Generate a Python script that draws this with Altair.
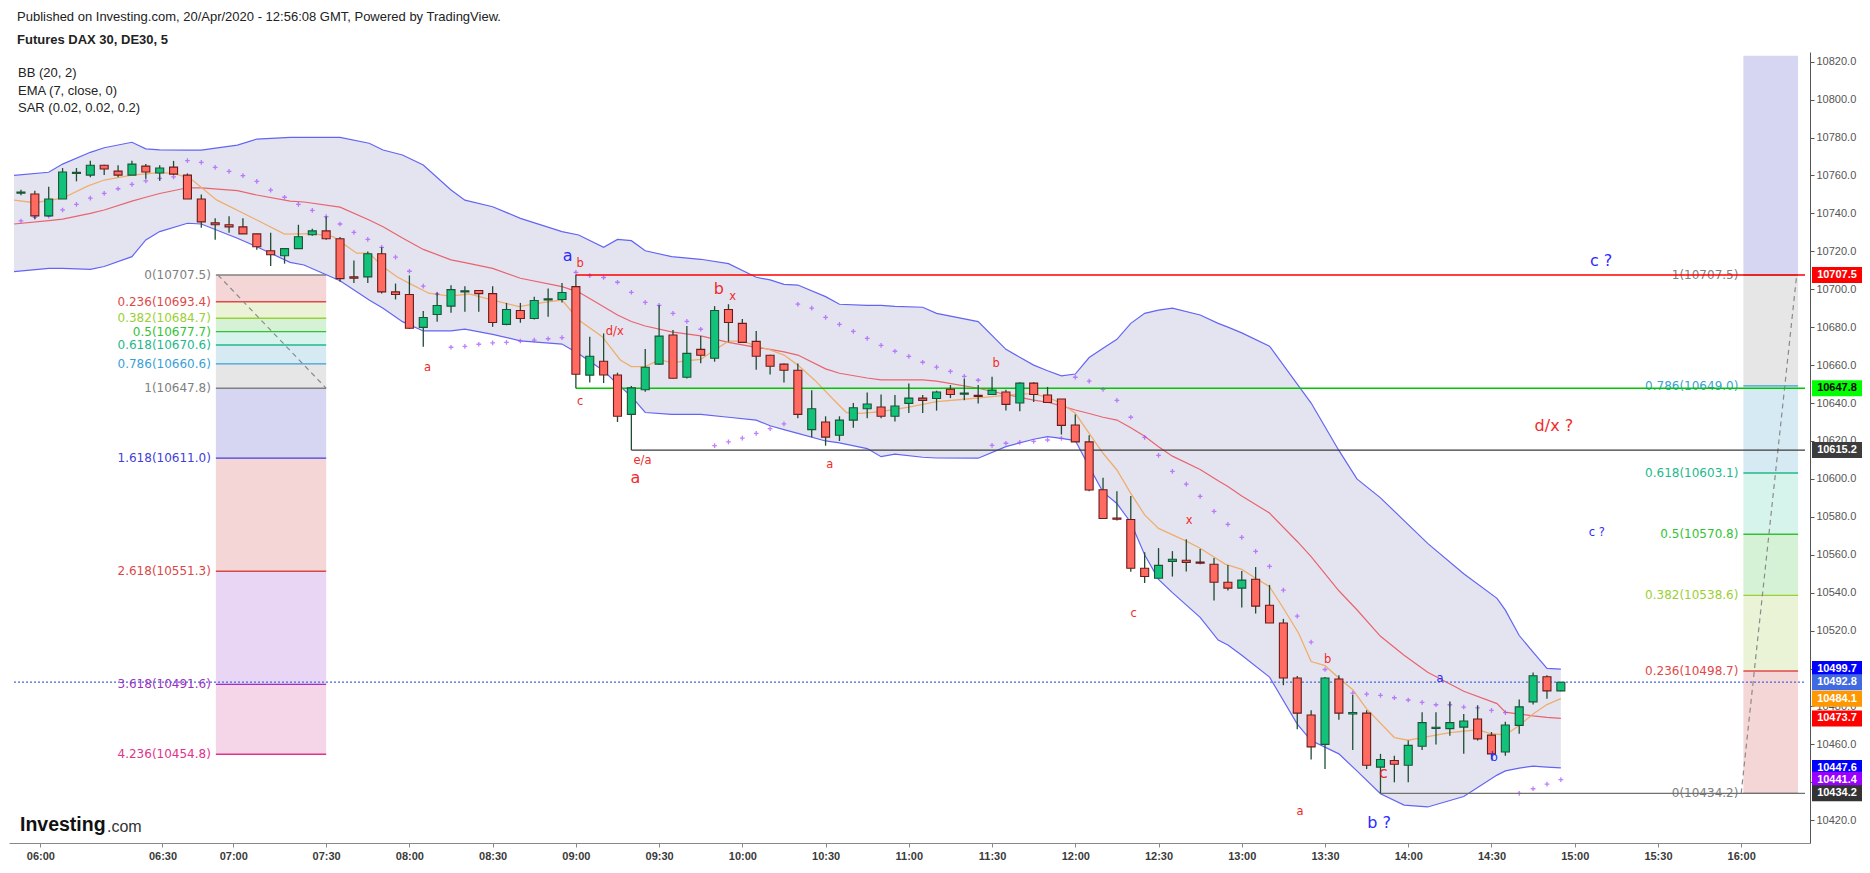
import altair as alt
import pandas as pd

# ---------------- texts ----------------
HEADER = "Published on Investing.com, 20/Apr/2020 - 12:56:08 GMT, Powered by TradingView."
SYMBOL = "Futures DAX 30, DE30, 5"
INDICATORS = ["BB (20, 2)", "EMA (7, close, 0)", "SAR (0.02, 0.02, 0.2)"]

TIME_TICKS = [2.4, 11.2, 16.3, 23, 29, 35, 41, 47, 53, 59, 65, 71, 77, 83, 89, 95, 101, 107, 113, 119, 125]
TIME_LABELS = ["06:00", "06:30", "07:00", "07:30", "08:00", "08:30", "09:00", "09:30", "10:00", "10:30",
               "11:00", "11:30", "12:00", "12:30", "13:00", "13:30", "14:00", "14:30", "15:00", "15:30", "16:00"]
PRICE_TICKS = list(range(10420, 10821, 20))

# ---------------- candles (5 min bars) ----------------
OPEN = [10750.7, 10750.2, 10738.7, 10747.6, 10761.0, 10760.2, 10765.4, 10762.3, 10760.2, 10764.9,
        10761.3, 10764.4, 10760.2, 10747.6, 10735.0, 10734.0, 10732.9, 10729.2, 10720.3, 10717.7,
        10721.4, 10728.7, 10730.8, 10726.6, 10706.5, 10706.5, 10718.7, 10698.6, 10697.2, 10679.9,
        10686.7, 10691.1, 10698.6, 10699.3, 10697.7, 10681.5, 10688.8, 10684.6, 10694.3, 10694.6,
        10701.4, 10654.7, 10662.0, 10654.8, 10634.0, 10647.0, 10660.5, 10675.9, 10653.6, 10668.3,
        10663.6, 10689.3, 10682.0, 10672.5, 10665.2, 10660.5, 10657.3, 10626.0, 10630.0, 10623.0,
        10631.0, 10637.0, 10637.9, 10633.0, 10639.8, 10642.6, 10642.4, 10647.3, 10644.7, 10644.1,
        10644.5, 10645.8, 10640.0, 10650.5, 10644.2, 10642.1, 10628.4, 10619.5, 10594.3, 10579.4,
        10578.6, 10552.9, 10547.6, 10556.5, 10557.1, 10556.2, 10555.0, 10545.5, 10542.4, 10547.1,
        10533.4, 10524.0, 10495.0, 10475.5, 10460.0, 10494.5, 10476.0, 10476.5, 10448.0, 10451.5,
        10449.0, 10459.0, 10468.4, 10468.3, 10469.1, 10473.4, 10464.9, 10456.0, 10470.0, 10482.4,
        10495.7, 10488.2]
HIGH = [10752.5, 10752.0, 10754.1, 10763.9, 10763.9, 10767.7, 10765.6, 10765.4, 10767.7, 10766.0,
        10765.4, 10767.7, 10761.1, 10749.9, 10737.5, 10738.5, 10737.5, 10729.2, 10729.8, 10721.4,
        10734.0, 10731.9, 10738.3, 10727.5, 10715.2, 10719.9, 10722.2, 10703.0, 10707.3, 10688.5,
        10698.3, 10702.1, 10701.6, 10699.5, 10701.6, 10692.8, 10692.8, 10696.0, 10700.4, 10703.3,
        10707.5, 10675.0, 10676.7, 10656.0, 10649.0, 10668.5, 10691.6, 10678.5, 10680.6, 10675.3,
        10691.1, 10692.1, 10684.3, 10678.0, 10665.5, 10660.8, 10660.8, 10646.8, 10633.0, 10633.0,
        10640.0, 10645.5, 10644.5, 10644.2, 10650.3, 10644.2, 10646.5, 10649.5, 10652.8, 10649.5,
        10653.8, 10647.0, 10651.0, 10651.0, 10648.5, 10642.1, 10633.9, 10623.0, 10600.6, 10593.5,
        10591.0, 10561.3, 10563.5, 10561.9, 10568.2, 10563.0, 10558.3, 10554.6, 10551.4, 10553.5,
        10544.1, 10526.2, 10496.0, 10478.0, 10495.5, 10496.5, 10486.0, 10478.0, 10455.0, 10454.0,
        10462.0, 10477.0, 10477.0, 10482.6, 10476.0, 10480.6, 10466.5, 10472.0, 10483.7, 10497.9,
        10496.5, 10493.0]
LOW = [10749.5, 10737.1, 10738.3, 10747.6, 10756.9, 10759.0, 10760.2, 10759.0, 10760.2, 10758.3,
       10757.2, 10760.2, 10747.6, 10732.4, 10726.1, 10729.8, 10729.2, 10720.8, 10712.2, 10713.5,
       10721.4, 10728.2, 10726.1, 10704.0, 10703.3, 10703.3, 10697.7, 10694.6, 10679.0, 10669.7,
       10682.8, 10687.6, 10688.1, 10688.1, 10680.2, 10681.0, 10682.3, 10684.1, 10685.5, 10693.0,
       10647.8, 10650.8, 10650.5, 10630.0, 10615.2, 10646.0, 10660.0, 10653.0, 10653.0, 10661.0,
       10661.8, 10672.3, 10672.0, 10657.6, 10655.0, 10650.8, 10632.0, 10622.0, 10617.5, 10620.0,
       10627.0, 10632.0, 10632.0, 10630.3, 10634.7, 10634.7, 10636.0, 10642.6, 10641.4, 10639.8,
       10644.5, 10636.0, 10635.7, 10640.5, 10640.3, 10623.4, 10619.5, 10593.5, 10579.0, 10578.0,
       10551.0, 10545.1, 10547.6, 10548.5, 10551.1, 10555.0, 10535.9, 10541.1, 10532.2, 10529.0,
       10524.0, 10491.2, 10468.0, 10452.0, 10447.0, 10473.0, 10457.0, 10447.0, 10434.2, 10440.0,
       10440.0, 10457.0, 10460.0, 10464.5, 10455.0, 10462.0, 10452.0, 10454.0, 10465.6, 10481.0,
       10484.1, 10488.0]
CLOSE = [10751.3, 10738.7, 10747.6, 10761.8, 10761.6, 10765.4, 10763.4, 10760.2, 10766.0, 10761.8,
         10763.9, 10760.7, 10747.6, 10735.5, 10734.0, 10732.9, 10729.2, 10722.4, 10718.2, 10721.4,
         10727.7, 10730.8, 10726.6, 10705.6, 10705.8, 10718.7, 10698.6, 10697.2, 10679.4, 10685.1,
         10691.4, 10699.8, 10699.2, 10697.7, 10682.5, 10689.3, 10684.6, 10694.1, 10694.9, 10698.3,
         10655.2, 10664.7, 10654.8, 10633.0, 10648.0, 10658.9, 10675.3, 10653.1, 10666.2, 10665.2,
         10688.8, 10682.5, 10672.0, 10664.7, 10659.4, 10657.3, 10634.0, 10637.0, 10622.0, 10631.0,
         10637.5, 10639.5, 10633.0, 10638.4, 10642.6, 10641.4, 10645.8, 10644.5, 10645.3, 10643.5,
         10646.8, 10639.3, 10650.5, 10644.5, 10640.3, 10628.2, 10619.5, 10594.1, 10579.1, 10578.7,
         10552.9, 10548.5, 10554.4, 10557.6, 10556.0, 10555.6, 10545.5, 10542.4, 10546.6, 10532.9,
         10524.0, 10495.0, 10476.5, 10458.7, 10495.0, 10476.5, 10476.8, 10449.0, 10452.0, 10449.5,
         10459.5, 10471.5, 10469.0, 10471.5, 10472.3, 10462.9, 10455.0, 10470.2, 10479.8, 10496.2,
         10488.2, 10492.8]
BAR = list(range(1, len(OPEN) + 1))

# ---------------- Bollinger bands (20, 2) ----------------
BB_I = [0.5, 3, 4, 6, 7, 9, 10, 11, 13, 14,
        16.6, 18, 20.4, 21.4, 24, 26.1, 27.1, 28.5, 30, 32,
        33, 35, 37, 40, 41.2, 43, 44, 45, 46, 47.9,
        50, 52, 54, 55, 56, 57, 59, 60, 62, 63,
        64, 66, 67, 70, 72, 74, 75, 76, 77, 78,
        79, 80, 81, 82, 83, 84, 86, 87.3, 88, 89,
        91, 93, 94, 96, 97.3, 99, 100.7, 102.4, 105, 107.4,
        108, 109, 110, 111, 112]
BB_UP = [10760, 10761.7, 10766, 10772.2, 10774.6, 10777.5, 10774, 10773.5, 10773.4, 10773.4,
         10776, 10779.2, 10780.1, 10780.1, 10780.1, 10777, 10773.4, 10770.8, 10765.5, 10752.3,
         10747, 10743.5, 10737.4, 10730.4, 10728.6, 10722.1, 10726.3, 10725.6, 10720.3, 10717.2,
         10715.8, 10713.5, 10706.3, 10704.9, 10702.6, 10702.2, 10696.1, 10692.1, 10691.5, 10691.5,
         10691, 10690.5, 10687.3, 10682.9, 10668.3, 10660, 10657, 10654.3, 10655.3, 10664,
         10668.9, 10673.6, 10682, 10687.3, 10689, 10690, 10686.4, 10682, 10680, 10677,
         10670, 10650, 10640, 10615, 10600, 10590, 10578, 10566, 10550, 10537,
         10530.8, 10517.4, 10508.6, 10500.1, 10499.7]
BB_LO = [10709.3, 10711, 10711, 10710.5, 10712, 10717.2, 10726, 10730.4, 10734.8, 10734.4,
         10726.9, 10722.4, 10714.2, 10712.8, 10704.5, 10694.3, 10690, 10682.9, 10678, 10678,
         10679, 10676.2, 10672.8, 10671.1, 10666, 10657, 10650, 10643.5, 10635, 10634,
         10634, 10632.5, 10631, 10628, 10626, 10624, 10620, 10619, 10616, 10611.7,
         10613.1, 10611.4, 10611, 10610.9, 10617, 10620.9, 10622.3, 10621.4, 10620.2, 10606.4,
         10593, 10587, 10577, 10560, 10547, 10540, 10527, 10515, 10512.4, 10507,
         10495.5, 10470.7, 10462, 10455, 10446, 10434, 10428, 10427, 10432.5, 10443.8,
         10446, 10447.5, 10448.5, 10448, 10447.6]
BB_MID = [10734.4, 10736.2, 10737, 10740, 10741.8, 10746.5, 10748.5, 10750.5, 10753.5, 10753.5,
          10752, 10749.7, 10746.5, 10746, 10743.3, 10736.5, 10733, 10727, 10721, 10715.5,
          10714, 10711, 10705.8, 10701.4, 10698.5, 10690.8, 10686.4, 10683, 10680.6, 10677.5,
          10675.4, 10672, 10669.3, 10668.3, 10667, 10665.3, 10658, 10655.7, 10653.2, 10652.2,
          10652.2, 10652.2, 10651.5, 10647.8, 10644.5, 10641.5, 10640.4, 10638.5, 10636.3, 10634.5,
          10632.5, 10631, 10627, 10622.5, 10617, 10612, 10605, 10599, 10596, 10591,
          10582, 10567, 10559, 10541, 10531, 10517, 10507, 10498, 10488, 10481.5,
          10477, 10476, 10475, 10474.2, 10473.7]

# ---------------- EMA (7) ----------------
EMA_I = [0.5, 2, 4, 5.8, 7, 9, 11, 12, 13.2, 15.1,
         18, 20, 22, 23.5, 24.2, 25.2, 26.1, 27.1, 28.1, 29,
         30.4, 31.9, 33.3, 35, 36.9, 38.6, 40, 41.2, 42.9, 44.2,
         45, 46, 47, 48, 49, 50, 51, 52, 53, 54,
         55, 56, 57, 58.2, 59.6, 60.5, 61.5, 62.9, 65, 67,
         69, 71, 73, 74, 75, 76, 77, 78, 79, 80,
         81, 82, 83, 85, 86, 87.8, 89, 90, 91, 92,
         93.1, 94, 95, 96, 97, 98, 100, 101, 102, 104,
         106, 107, 108, 109, 110, 111, 112]
EMA_V = [10747, 10745.6, 10748, 10754.4, 10757.6, 10760.2, 10761.5, 10761.1, 10758.5, 10747.1,
         10736.5, 10729.1, 10729.3, 10727.7, 10724.2, 10719, 10719, 10711.9, 10706.6, 10703.1,
         10697.9, 10696.4, 10697.5, 10694.3, 10690.8, 10692.9, 10694.3, 10683.8, 10675, 10662.7,
         10659.2, 10659.2, 10662.7, 10661.3, 10662.3, 10663, 10668, 10672.6, 10672.6, 10670.1,
         10668, 10665.3, 10660, 10652.2, 10641.6, 10635, 10634.5, 10635.4, 10637.8, 10640.7,
         10642, 10643.4, 10644.8, 10644.8, 10643, 10639.9, 10634.6, 10624, 10613.5, 10604.7,
         10592.4, 10581, 10573.9, 10567.2, 10563.4, 10555.1, 10552.3, 10547.6, 10543.2, 10531.8,
         10518.6, 10503.7, 10501.5, 10495, 10488.8, 10478.7, 10463.6, 10462.2, 10463.6, 10466.2,
         10467.7, 10465.6, 10465, 10470, 10476, 10481, 10484.1]

# ---------------- Parabolic SAR (one per bar) ----------------
SAR_V = [10736, 10737.9, 10738.5, 10741.8, 10744.8, 10748, 10750.6, 10753, 10755.3, 10757.1,
         10758.5, 10759.3, 10767.8, 10766.9, 10764.3, 10762.2, 10759.9, 10756.9, 10752.3, 10748.5,
         10744.8, 10741.6, 10738.3, 10734.4, 10730, 10726.3, 10722.1, 10716.9, 10709.5, 10701.6,
         10697.5, 10669.4, 10669.9, 10671, 10671.7, 10672, 10672.7, 10673.2, 10673.9, 10674.5,
         10708.9, 10707.2, 10706.2, 10703.7, 10698.4, 10693.1, 10691.5, 10687.3, 10683.1, 10678.9,
         10617.5, 10619.5, 10621.5, 10624, 10626.5, 10629, 10692.1, 10690, 10685.2, 10681.5,
         10677.8, 10674.1, 10670.4, 10667.3, 10664.6, 10661.5, 10658.9, 10656.7, 10654.1, 10652,
         10617.7, 10618.8, 10619.3, 10619.8, 10620.5, 10621.4, 10653.6, 10651.5, 10647.2, 10641.4,
         10632.5, 10621.9, 10612.4, 10604, 10597.2, 10590.8, 10582.9, 10576, 10569.2, 10561.8,
         10553.9, 10541.3, 10527.6, 10513.9, 10499.5, 10494.3, 10487, 10486.5, 10485.8, 10484.6,
         10483.4, 10482.2, 10480.9, 10480.9, 10479.7, 10479.2, 10477.9, 10476.7, 10434.2, 10436.6,
         10439, 10441.4]

# ---------------- Fibonacci tools ----------------
LF_RATIO = ["0", "0.236", "0.382", "0.5", "0.618", "0.786", "1", "1.618", "2.618", "3.618", "4.236"]
LF_PRICE = [10707.5, 10693.4, 10684.7, 10677.7, 10670.6, 10660.6, 10647.8, 10611.0, 10551.3, 10491.6, 10454.8]
LF_LINE = ["#808080", "#e04848", "#9bcf35", "#34c234", "#23b88c", "#3a9fd6", "#808080",
           "#4040d8", "#d84848", "#a030c0", "#e0338a"]
LF_FILL = ["#f4d6d6", "#eaf3d6", "#d6f2d6", "#d6f3ec", "#d6eaf4", "#e6e6e6", "#d6d6f2",
           "#f4d6d6", "#e8d6f4", "#f4d6e8"]
LF_BARS = [15.05, 23.0]
LF_DIAG_I = [15.2, 23.0]
LF_DIAG_P = [10707.5, 10647.8]

RF_RATIO = ["0", "0.236", "0.382", "0.5", "0.618", "0.786", "1"]
RF_PRICE = [10434.2, 10498.7, 10538.6, 10570.8, 10603.1, 10649.0, 10707.5]
RF_LINE = ["#808080", "#e04848", "#9bcf35", "#34c234", "#23b88c", "#3a9fd6", "#808080"]
RF_FILL = ["#f4d6d6", "#eaf3d6", "#d6f2d6", "#d6f3ec", "#d6eaf4", "#e6e6e6", "#d6d6f2"]
RF_BARS = [125.16, 129.1]
RF_DIAG_I = [125.0, 129.0]
RF_DIAG_P = [10434.2, 10707.5]

# ---------------- horizontal drawings ----------------
HL_PRICE = [10707.5, 10647.8, 10615.2, 10434.2]
HL_START = [41, 41, 45, 99]
HL_COLOR = ["#ff0000", "#00c800", "#3a3a3a", "#707070"]
LAST_PRICE = 10492.8

# ---------------- right price tags ----------------
TAG_PRICE = [10707.5, 10647.8, 10615.2, 10499.7, 10492.8, 10484.1, 10473.7, 10447.6, 10441.4, 10434.2]
TAG_BG = ["#ff0000", "#00ff00", "#3c3c3c", "#0000ff", "#4169e1", "#ff9800", "#ff0000", "#0000ff", "#9900ff", "#333333"]
TAG_FG = ["#ffffff", "#000000", "#ffffff", "#ffffff", "#ffffff", "#ffffff", "#ffffff", "#ffffff", "#ffffff", "#ffffff"]

# ---------------- wave annotations ----------------
ANN_I = [30.3, 41.3, 40.4, 41.3, 43.8, 45.8, 45.3, 51.3, 52.3, 59.3, 71.3, 85.2, 81.2, 95.2, 93.2,
         99.2, 98.9, 103.3, 107.2, 114.9, 111.5, 114.6]
ANN_P = [10658.3, 10713.4, 10717.5, 10640.7, 10677.6, 10609.2, 10600.4, 10700.0, 10696.1, 10607.3,
         10660.6, 10578.0, 10528.8, 10504.5, 10424.3, 10445.0, 10418.6, 10494.7, 10452.6, 10714.9,
         10627.7, 10571.5]
ANN_T = ["a", "b", "a", "c", "d/x", "e/a", "a", "b", "x", "a", "b", "x", "c", "b", "a",
         "c", "b ?", "a", "b", "c ?", "d/x ?", "c ?"]
ANN_BLUE = [False, False, True, False, False, False, False, False, False, False, False, False, False,
            False, False, False, True, True, True, True, False, True]
ANN_BIG = [False, False, True, False, False, False, True, True, False, False, False, False, False,
           False, False, True, True, False, False, True, True, False]

# ---------------- layout ----------------
W, H = 1801, 791
XMIN, XMAX = 0.498, 129.6
YMIN, YMAX = 10408.0, 10825.1

label_expr = " : ".join(f"datum.value == {v} ? '{l}'" for v, l in zip(TIME_TICKS, TIME_LABELS)) + " : ''"

AX_X = alt.Axis(values=TIME_TICKS, labelExpr=label_expr, title=None, grid=False,
                labelFont="Liberation Sans", labelFontSize=11, labelFontWeight="bold",
                labelColor="#3a3a3a", tickSize=4, tickColor="#888888", domainColor="#888888",
                labelPadding=3, labelFlush=False, labelOverlap=False)
AX_Y = alt.Axis(orient="right", values=PRICE_TICKS, format=".1f", title=None, grid=False,
                labelFont="Liberation Sans", labelFontSize=11, labelColor="#555555",
                tickSize=4, tickColor="#555555", domainColor="#555555", labelPadding=2)
SX = alt.Scale(domain=[XMIN, XMAX], nice=False, zero=False)
SY = alt.Scale(domain=[YMIN, YMAX], nice=False, zero=False)


def xq(f):
    return alt.X(f, type="quantitative", scale=SX, axis=AX_X)


def yq(f):
    return alt.Y(f, type="quantitative", scale=SY, axis=AX_Y)


# data frames
cdf = pd.DataFrame({"i": BAR, "o": OPEN, "h": HIGH, "l": LOW, "c": CLOSE})
up = cdf["c"] >= cdf["o"]
cdf["fill"] = ["#12c27a" if u else "#ff6b61" for u in up]
cdf["edge"] = ["#1b5436" if u else "#6a1c1c" for u in up]

bb = pd.DataFrame({"i": BB_I, "u": BB_UP, "l": BB_LO, "m": BB_MID})
ema = pd.DataFrame({"i": EMA_I, "v": EMA_V})
sar = pd.DataFrame({"i": BAR, "v": SAR_V})

rects, lines = [], []
for k in range(len(LF_PRICE) - 1):
    rects.append({"x1": LF_BARS[0], "x2": LF_BARS[1], "y1": LF_PRICE[k], "y2": LF_PRICE[k + 1], "fill": LF_FILL[k]})
for k in range(len(LF_PRICE)):
    lines.append({"x1": LF_BARS[0], "x2": LF_BARS[1], "p": LF_PRICE[k], "col": LF_LINE[k],
                  "txt": f"{LF_RATIO[k]}({LF_PRICE[k]:.1f})"})
for k in range(len(RF_PRICE)):
    top = RF_PRICE[k + 1] if k + 1 < len(RF_PRICE) else YMAX - 2
    rects.append({"x1": RF_BARS[0], "x2": RF_BARS[1], "y1": RF_PRICE[k], "y2": top, "fill": RF_FILL[k]})
    lines.append({"x1": RF_BARS[0], "x2": RF_BARS[1], "p": RF_PRICE[k], "col": RF_LINE[k],
                  "txt": f"{RF_RATIO[k]}({RF_PRICE[k]:.1f})"})
fib_rects = pd.DataFrame(rects)
fib_lines = pd.DataFrame(lines)
diag = pd.DataFrame({"x1": [LF_DIAG_I[0], RF_DIAG_I[0]], "x2": [LF_DIAG_I[1], RF_DIAG_I[1]],
                     "y1": [LF_DIAG_P[0], RF_DIAG_P[0]], "y2": [LF_DIAG_P[1], RF_DIAG_P[1]]})
hl = pd.DataFrame({"p": HL_PRICE, "s": HL_START, "col": HL_COLOR, "e": [XMAX] * len(HL_PRICE)})
tags = pd.DataFrame({"p": TAG_PRICE, "bg": TAG_BG, "fg": TAG_FG, "t": [f"{p:.1f}" for p in TAG_PRICE]})
ann = pd.DataFrame({"i": ANN_I, "p": ANN_P, "t": ANN_T,
                    "col": ["#2a2aff" if b else "#f02a2a" for b in ANN_BLUE],
                    "sz": [16 if g else 11.5 for g in ANN_BIG]})
last = pd.DataFrame({"p": [LAST_PRICE], "s": [XMIN], "e": [XMAX]})
one = pd.DataFrame({"k": [0]})

# ---------------- layers ----------------
band = alt.Chart(bb).mark_area(color="#e4e4f0").encode(x=xq("i"), y=yq("u"), y2="l")

fib_box = alt.Chart(fib_rects).mark_rect().encode(
    x=xq("x1"), x2="x2", y=yq("y1"), y2="y2", fill=alt.Fill("fill:N", scale=None))
fib_rule = alt.Chart(fib_lines).mark_rule(strokeWidth=1.3).encode(
    x=xq("x1"), x2="x2", y=yq("p"), color=alt.Color("col:N", scale=None))
fib_text = alt.Chart(fib_lines).mark_text(align="right", baseline="middle", dx=-5, font="DejaVu Sans",
                                          fontSize=12).encode(
    x=xq("x1"), y=yq("p"), text="txt:N", color=alt.Color("col:N", scale=None))
fib_diag = alt.Chart(diag).mark_rule(color="#8a8a8a", strokeDash=[5, 4], strokeWidth=1.2).encode(
    x=xq("x1"), x2="x2", y=yq("y1"), y2="y2")

bb_up = alt.Chart(bb).mark_line(color="#6464f4", strokeWidth=1.2).encode(x=xq("i"), y=yq("u"))
bb_lo = alt.Chart(bb).mark_line(color="#6464f4", strokeWidth=1.2).encode(x=xq("i"), y=yq("l"))
bb_mid = alt.Chart(bb).mark_line(color="#e8646e", strokeWidth=1.2).encode(x=xq("i"), y=yq("m"))
ema_line = alt.Chart(ema).mark_line(color="#efae6c", strokeWidth=1.3).encode(x=xq("i"), y=yq("v"))

sar_pts = alt.Chart(sar).mark_point(shape="M-1,0L1,0M0,-1L0,1", filled=False, size=22, strokeWidth=1.3,
                                    color="#a64cff").encode(x=xq("i"), y=yq("v"))

last_line = alt.Chart(last).mark_rule(color="#4a66dd", strokeDash=[2, 2], strokeWidth=1.2).encode(
    x=xq("s"), x2="e", y=yq("p"))

hlines = alt.Chart(hl).mark_rule(strokeWidth=1.3).encode(
    x=xq("s"), x2="e", y=yq("p"), color=alt.Color("col:N", scale=None))

wick = alt.Chart(cdf).mark_rule(color="#1f4d33", strokeWidth=1.3).encode(x=xq("i"), y=yq("l"), y2="h")
body = alt.Chart(cdf).transform_calculate(
    lo="min(datum.o, datum.c)", hi="max(datum.o, datum.c)"
).mark_bar(size=8, strokeWidth=1.1).encode(
    x=xq("i"), y=yq("lo"), y2="hi",
    fill=alt.Fill("fill:N", scale=None), stroke=alt.Stroke("edge:N", scale=None))

ann_text = alt.Chart(ann).mark_text(align="center", baseline="middle", font="DejaVu Sans").encode(
    x=xq("i"), y=yq("p"), text="t:N", color=alt.Color("col:N", scale=None), size=alt.Size("sz:Q", scale=None))

tag_box = alt.Chart(tags).mark_rect(yOffset=-8, y2Offset=8).encode(
    x=alt.value(W + 2), x2=alt.value(W + 52), y=yq("p"), y2="p", fill=alt.Fill("bg:N", scale=None))
tag_txt = alt.Chart(tags).mark_text(align="center", baseline="middle", font="Liberation Sans", fontSize=11,
                                    fontWeight="bold").encode(
    x=alt.value(W + 27), y=yq("p"), text="t:N", color=alt.Color("fg:N", scale=None))


def label(text, x, y, size=13, weight="normal", color="#222222"):
    return alt.Chart(one).mark_text(align="left", baseline="middle", font="Liberation Sans", fontSize=size,
                                    fontWeight=weight, color=color).encode(
        x=alt.value(x), y=alt.value(y), text=alt.value(text))


heads = [label(HEADER, 8, -35, 13), label(SYMBOL, 8, -12, 13, "bold")]
for n, t in enumerate(INDICATORS):
    heads.append(label(t, 9, 21 + 17.5 * n, 13))
heads.append(label("Investing", 11, 773, 19.5, "bold", "#111111"))
heads.append(label(".com", 98, 775, 16, "normal", "#333333"))

chart = alt.layer(
    band, fib_box, fib_rule, fib_diag, fib_text, bb_up, bb_lo, bb_mid, ema_line, sar_pts,
    last_line, hlines, wick, body, ann_text, tag_box, tag_txt, *heads
).properties(
    width=W, height=H,
    padding={"left": 1, "top": 44, "right": 52, "bottom": 21},
    autosize=alt.AutoSizeParams(type="none"),
    background="white",
).configure_view(stroke=None)

chart.save("out.html", embed_options={"renderer": "svg", "actions": False})
